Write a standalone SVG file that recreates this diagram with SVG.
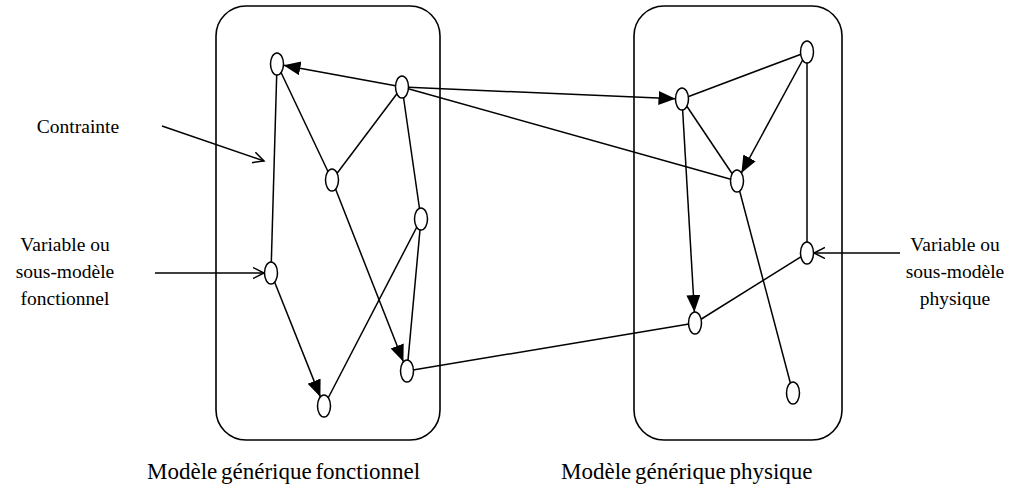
<svg xmlns="http://www.w3.org/2000/svg" width="1029" height="501" viewBox="0 0 1029 501">
<style>
.box{fill:none;stroke:#000;stroke-width:1.6}
.n{fill:#fff;stroke:#000;stroke-width:1.5}
.e{stroke:#000;stroke-width:1.5;fill:none}
.a{marker-end:url(#tri)}
.o{marker-end:url(#open)}
text{font-family:"Liberation Serif","Times New Roman",serif;fill:#000}
.lbl{font-size:19.5px;text-anchor:middle}
.ttl{font-size:23px;word-spacing:-2px}
</style>
<defs>
<marker id="tri" markerUnits="userSpaceOnUse" markerWidth="18" markerHeight="16" refX="17" refY="7" orient="auto">
<path d="M0,0 L17,7 L0,14 z" fill="#000"/>
</marker>
<marker id="open" markerUnits="userSpaceOnUse" markerWidth="14" markerHeight="14" refX="11" refY="6" orient="auto">
<path d="M0,0.5 L11,6 L0,11.5" fill="none" stroke="#000" stroke-width="1.5"/>
</marker>
</defs>
<rect id="box-fonctionnel" class="box" x="216" y="6" width="224" height="434" rx="30"/>
<rect id="box-physique" class="box" x="634" y="6" width="208" height="434" rx="30"/>
<g id="connectors">
<line class="e a" x1="395.5" y1="85.8" x2="283.5" y2="65.2"/>
<line class="e" x1="277" y1="64" x2="271" y2="273"/>
<line class="e" x1="277" y1="64" x2="332" y2="180"/>
<line class="e" x1="402" y1="87" x2="332" y2="180"/>
<line class="e" x1="402" y1="87" x2="421" y2="219"/>
<line class="e a" x1="332" y1="180" x2="403.4" y2="361.8"/>
<line class="e" x1="421" y1="219" x2="407" y2="371"/>
<line class="e" x1="421" y1="219" x2="324" y2="406"/>
<line class="e a" x1="271" y1="273" x2="320.4" y2="396.9"/>
<line class="e" x1="407" y1="371" x2="695" y2="323"/>
<line class="e a" x1="408.5" y1="87.3" x2="675.5" y2="98.7"/>
<line class="e" x1="402" y1="87" x2="737" y2="181"/>
<line class="e" x1="682" y1="99" x2="807" y2="52"/>
<line class="e a" x1="807" y1="52" x2="741.4" y2="172.9"/>
<line class="e a" x1="682" y1="99" x2="694.4" y2="312"/>
<line class="e" x1="682" y1="99" x2="737" y2="181"/>
<line class="e" x1="737" y1="181" x2="793" y2="393"/>
<line class="e" x1="807" y1="52" x2="807" y2="253"/>
<line class="e" x1="807" y1="253" x2="695" y2="323"/>
<line class="e o" x1="162" y1="126" x2="264" y2="161"/>
<line class="e o" x1="155" y1="273" x2="264" y2="273"/>
<line class="e o" x1="900" y1="253" x2="814" y2="253"/>
</g>
<g id="node-a"><ellipse class="n" cx="277" cy="64" rx="6.5" ry="11"/></g>
<g id="node-b"><ellipse class="n" cx="402" cy="87" rx="6.5" ry="11"/></g>
<g id="node-c"><ellipse class="n" cx="332" cy="180" rx="6.5" ry="11"/></g>
<g id="node-d"><ellipse class="n" cx="421" cy="219" rx="6.5" ry="11"/></g>
<g id="node-e"><ellipse class="n" cx="271" cy="273" rx="6.5" ry="11"/></g>
<g id="node-f"><ellipse class="n" cx="324" cy="406" rx="6.5" ry="11"/></g>
<g id="node-g"><ellipse class="n" cx="407" cy="371" rx="6.5" ry="11"/></g>
<g id="node-h"><ellipse class="n" cx="682" cy="99" rx="6.5" ry="11"/></g>
<g id="node-i"><ellipse class="n" cx="807" cy="52" rx="6.5" ry="11"/></g>
<g id="node-j"><ellipse class="n" cx="737" cy="181" rx="6.5" ry="11"/></g>
<g id="node-k"><ellipse class="n" cx="807" cy="253" rx="6.5" ry="11"/></g>
<g id="node-l"><ellipse class="n" cx="695" cy="323" rx="6.5" ry="11"/></g>
<g id="node-m"><ellipse class="n" cx="793" cy="393" rx="6.5" ry="11"/></g>
<g id="label-contrainte"><text class="lbl" x="78" y="133">Contrainte</text></g>
<g id="label-fonctionnel"><text class="lbl" x="65" y="251">Variable ou</text><text class="lbl" x="65" y="278">sous-modèle</text><text class="lbl" x="65" y="305">fonctionnel</text></g>
<g id="label-physique"><text class="lbl" x="955" y="251">Variable ou</text><text class="lbl" x="955" y="278">sous-modèle</text><text class="lbl" x="955" y="305">physique</text></g>
<g id="title-fonctionnel"><text class="ttl" x="147" y="479">Modèle générique fonctionnel</text></g>
<g id="title-physique"><text class="ttl" x="561" y="479">Modèle générique physique</text></g>
</svg>
